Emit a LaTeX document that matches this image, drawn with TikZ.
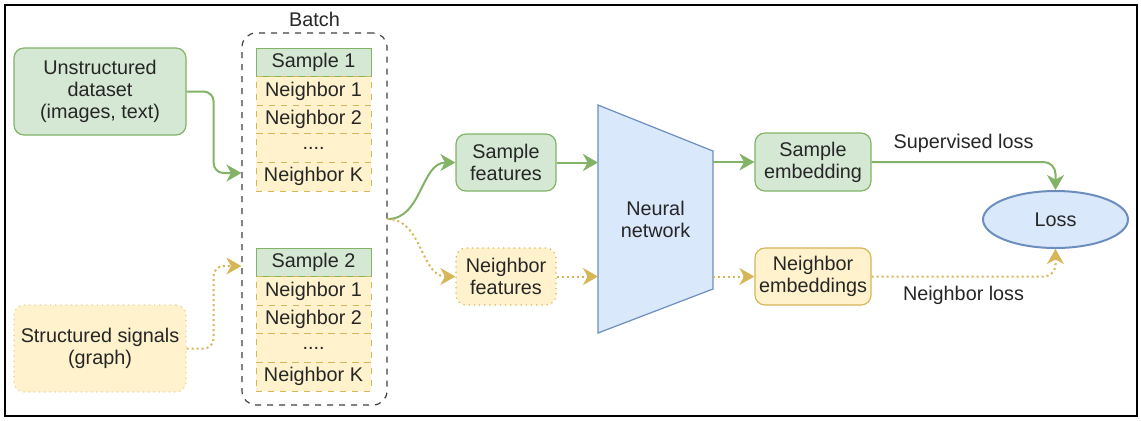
\documentclass[tikz,border=0pt]{standalone}
\usepackage{fontspec}
\setmainfont{Liberation Sans}
\usepackage{tikz}
\usetikzlibrary{calc}
\usetikzlibrary{shapes}
\usetikzlibrary{positioning}
\usetikzlibrary{arrows.meta}

\definecolor{grnfill}{HTML}{D5E8D4}
\definecolor{grnline}{HTML}{82B366}
\definecolor{ylwfill}{HTML}{FFF2CC}
\definecolor{ylwline}{HTML}{D6B656}
\definecolor{blufill}{HTML}{DAE8FC}
\definecolor{bluline}{HTML}{6C8EBF}

\begin{document}
\begin{tikzpicture}[x=0.5pt,y=-0.5pt,>={Stealth[length=7.5pt,width=8.5pt,inset=2.3pt]},
	  font=\fontsize{9.9}{11}\selectfont, text=black!85,
	  green box/.style={rectangle,rounded corners=5pt,draw=grnline,fill=grnfill,line width=0.6pt,align=center,inner sep=0pt},
	  yellow box/.style={rectangle,rounded corners=5pt,draw=ylwline,fill=ylwfill,line width=0.6pt,align=center,inner sep=0pt},
	  row/.style={rectangle,minimum width=57.5pt,minimum height=14.3pt,inner sep=0pt,outer sep=0pt,line width=0.5pt},
	  sample row/.style={row,draw=grnline,fill=grnfill},
	  neighbor row/.style={row,draw=ylwline,fill=ylwfill,dashed},
	  solid edge/.style={->,draw=grnline,line width=1pt},
	  dotted edge/.style={->,draw=ylwline,line width=1pt,dash pattern=on 1pt off 1.5pt}]

	 \useasboundingbox (0,0) rectangle (1141,420);
	 \draw[line width=1.3pt] (5,5) rectangle (1137,416);

	 % inputs
	 \node[green box, minimum width=86pt, minimum height=43.5pt] (uns) at (100,91.5) {Unstructured\\dataset\\(images, text)};
	 \node[yellow box, draw=ylwline!60, dotted, minimum width=86pt, minimum height=43.5pt] (str) at (100,348.5) {Structured signals\\(graph)};

	 % batch
	 \node[draw=black!75, dashed, rounded corners=7pt, line width=0.6pt, minimum width=72.5pt, minimum height=186pt] (batch) at (314.5,219) {};
	 \node[inner sep=0pt, above=2.5pt of batch] (blbl) {Batch};
	 \coordinate (in1) at ($ (batch.west) + (0,-46) $);
	 \coordinate (in2) at ($ (batch.west) + (0,47) $);

	 \node[sample row] (s1) at (313.5,62.3) {Sample 1};
	 \node[neighbor row, below=0pt of s1] (s1n1) {Neighbor 1};
	 \node[neighbor row, below=0pt of s1n1] (s1n2) {Neighbor 2};
	 \node[neighbor row, below=0pt of s1n2] (s1nd) {....};
	 \node[neighbor row, below=0pt of s1nd] (s1nk) {Neighbor K};

	 \node[sample row] (s2) at (313.5,262.4) {Sample 2};
	 \node[neighbor row, below=0pt of s2] (s2n1) {Neighbor 1};
	 \node[neighbor row, below=0pt of s2n1] (s2n2) {Neighbor 2};
	 \node[neighbor row, below=0pt of s2n2] (s2nd) {....};
	 \node[neighbor row, below=0pt of s2nd] (s2nk) {Neighbor K};

	 % features
	 \node[green box, minimum width=50pt, minimum height=28.5pt] (sf) at (506,162.5) {Sample\\features};
	 \node[yellow box, dotted, minimum width=50pt, minimum height=28.5pt] (nf) at (506,276.5) {Neighbor\\features};

	 % network
	 \coordinate (nnc) at (655.5,219);
	 \coordinate (nnw) at ($ (nnc) + (-57.5,0) $);
	 \coordinate (nne) at ($ (nnc) + (57.5,0) $);
	 \draw[draw=bluline, fill=blufill, line width=0.6pt] ($ (nnc) + (-57.5,-114) $) -- ($ (nnc) + (57.5,-68) $)
	    -- ($ (nnc) + (57.5,70) $) -- ($ (nnc) + (-57.5,114) $) -- cycle;
	 \node[align=center] (nn) at (nnc) {Neural\\network};

	 % embeddings and loss
	 \node[green box, minimum width=58pt, minimum height=29pt] (se) at (813,162) {Sample\\embedding};
	 \node[yellow box, minimum width=58pt, minimum height=28.5pt] (ne) at (813,276.5) {Neighbor\\embeddings};
	 \node[ellipse, draw=bluline, fill=blufill, line width=1pt, minimum width=72.5pt, minimum height=28.5pt, inner sep=0pt] (loss) at (1055.5,219.5) {Loss};

	 \draw[solid edge, rounded corners=5pt] (uns.east) -- ++(27,0) |- (in1);
	 \draw[dotted edge, rounded corners=5pt] (str.east) -- ++(27,0) |- (in2);
	 \draw[solid edge] (batch.east) to[out=0,in=180] (sf.west);
	 \draw[dotted edge] (batch.east) to[out=0,in=180] (nf.west);
	 \draw[solid edge] (sf.east) -- (sf.east -| nnw);
	 \draw[dotted edge] (nf.east) -- (nf.east -| nnw);
	 \draw[solid edge] (nne |- se) -- (se.west);
	 \draw[dotted edge] (nne |- ne) -- (ne.west);
	 \draw[solid edge, rounded corners=6pt] (se.east) -| node[pos=0.25, above=1pt] {Supervised loss} (loss.north);
	 \draw[dotted edge, rounded corners=6pt] (ne.east) -| node[pos=0.25, below=1pt] {Neighbor loss} (loss.south);
\end{tikzpicture}
\end{document}
